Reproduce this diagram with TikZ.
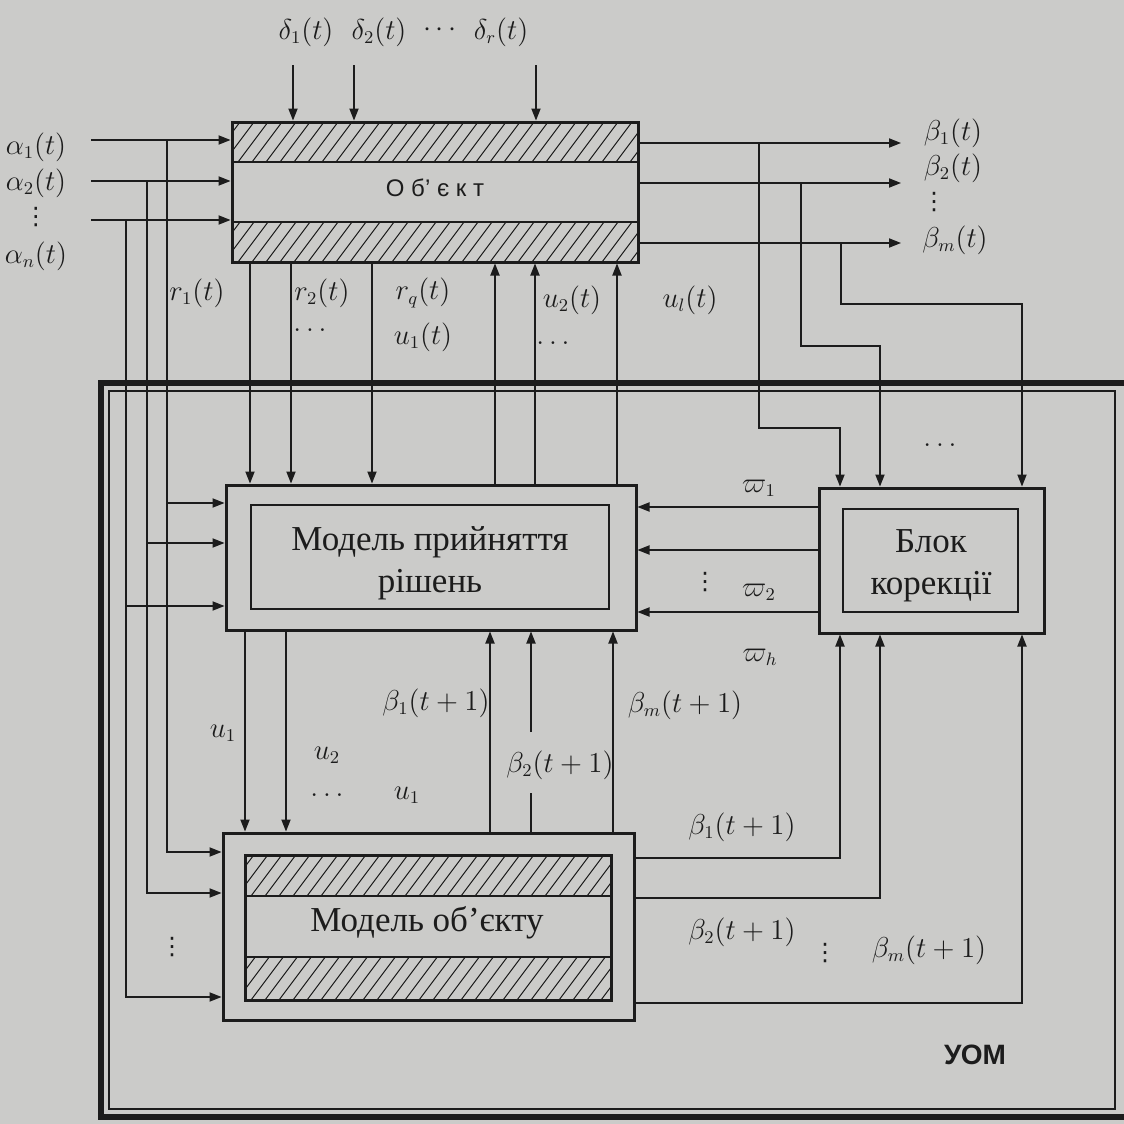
\documentclass[tikz,border=0pt]{standalone}
\usepackage{fontspec}
\setmainfont{Liberation Serif}
\newfontfamily\uomsans{Liberation Sans}
\newfontfamily\dejavu{DejaVu Sans}
\usetikzlibrary{arrows.meta}
\definecolor{paper}{RGB}{203,203,201}
\definecolor{ink}{RGB}{28,28,28}
\newcommand{\hatchband}[4]{%
  \begin{scope}
    \clip (#1,#2) rectangle (#3,#4);
    \foreach \i in {0,...,35} {\draw[hatchline] ({#1-50+14*\i},#4) -- ++(45,-60);}
  \end{scope}}
\begin{document}
\begin{tikzpicture}[x=0.5pt,y=-0.5pt,
  conn/.style={draw=ink, line width=0.65pt},
  arr/.style={conn, -{Triangle[length=6pt,width=4.6pt]}},
  hatchline/.style={draw=ink, line width=0.5pt},
  thickbox/.style={draw=ink, line width=1.5pt, inner sep=0pt},
  innerbox/.style={draw=ink, line width=1.2pt, inner sep=0pt},
  lbl/.style={font=\fontsize{13.5}{15}\selectfont, inner sep=0pt, text=ink},
  vd/.style={font=\dejavu\fontsize{12}{12}\selectfont, inner sep=0pt, text=ink},
  big/.style={font=\fontsize{17.5}{21}\selectfont, inner sep=0pt, text=ink, align=center},
]
\useasboundingbox (0,0) rectangle (1124,1124);
\fill[paper] (0,0) rectangle (1124,1124);

% ---------- UOM frame ----------
\draw[ink, line width=3pt] (1135,383) -- (101,383) -- (101,1117) -- (1135,1117);
\draw[ink, line width=0.9pt] (109,391) rectangle (1115,1109);

% ---------- Object ----------
\hatchband{232}{122}{638}{162}
\hatchband{232}{222}{638}{262}
\node[thickbox, minimum width=203pt, minimum height=70pt] (obj) at (435,192) {};
\draw[ink, line width=1.3pt] (232,162) -- (638,162) (232,222) -- (638,222);
\node[font=\uomsans\fontsize{12}{14}\selectfont, text=ink, inner sep=0pt] (objt) at (435,188) {О б’ є к т};

% ---------- Decision model ----------
\node[thickbox, minimum width=205pt, minimum height=72.5pt] (dec) at (431,557.5) {};
\node[innerbox, minimum width=179pt, minimum height=52pt] (deci) at (430,557) {};
\node[big] (dect) at (430,563) {Модель прийняття\\рішень};

% ---------- Correction block ----------
\node[thickbox, minimum width=112.5pt, minimum height=72.5pt] (blk) at (931.5,560.5) {};
\node[innerbox, minimum width=87.5pt, minimum height=51.5pt] (blki) at (930.5,560.5) {};
\node[big] (blkt) at (931,566) {Блок\\корекції};

% ---------- Object model ----------
\hatchband{245}{855}{611}{896}
\hatchband{245}{957}{611}{1000}
\node[thickbox, minimum width=205.5pt, minimum height=93.5pt] (om) at (428.5,926.5) {};
\node[thickbox, minimum width=183pt, minimum height=72.5pt] (omi) at (428,927.5) {};
\draw[ink, line width=1.3pt] (245,896) -- (611,896) (245,957) -- (611,957);
\node[big] (omt) at (427,923) {Модель об’єкту};

% ---------- delta inputs ----------
\node[lbl] (d1) at (306,32) {$\delta_1(t)$};
\node[lbl] (d2) at (379,32) {$\delta_2(t)$};
\node[lbl] (dd) at (440,30) {$\cdots$};
\node[lbl] (dr) at (501,32) {$\delta_r(t)$};
\draw[arr] (293,65) -- (293,0 |- obj.north);
\draw[arr] (354,65) -- (354,0 |- obj.north);
\draw[arr] (536,65) -- (536,0 |- obj.north);

% ---------- alpha inputs ----------
\node[lbl] (a1) at (36,147) {$\alpha_1(t)$};
\node[lbl] (a2) at (36,183) {$\alpha_2(t)$};
\node[vd] (av) at (36,217) {⋮};
\node[lbl] (an) at (36,256) {$\alpha_n(t)$};
\draw[arr] (91,140) -- (obj.west |- 0,140);
\draw[arr] (91,181) -- (obj.west |- 0,181);
\draw[arr] (91,220) -- (obj.west |- 0,220);
% taps to decision model and object model
\draw[arr] (167,140) -- (167,852) -- (om.west |- 0,852);
\draw[arr] (147,181) -- (147,893) -- (om.west |- 0,893);
\draw[arr] (126,220) -- (126,997) -- (om.west |- 0,997);
\draw[arr] (167,503) -- (dec.west |- 0,503);
\draw[arr] (147,543) -- (dec.west |- 0,543);
\draw[arr] (126,606) -- (dec.west |- 0,606);
\node[vd] (lv) at (172,947) {⋮};

% ---------- r outputs to decision model ----------
\draw[arr] (250,0 |- obj.south) -- (250,0 |- dec.north);
\draw[arr] (291,0 |- obj.south) -- (291,0 |- dec.north);
\draw[arr] (372,0 |- obj.south) -- (372,0 |- dec.north);
\node[lbl] (r1) at (197,293) {$r_1(t)$};
\node[lbl] (r2) at (322,293) {$r_2(t)$};
\node[lbl] (rd) at (310,330) {$\ldots$};
\node[lbl] (rq) at (423,293) {$r_q(t)$};
\node[lbl] (u1t) at (423,337) {$u_1(t)$};

% ---------- u controls to object ----------
\draw[arr] (495,0 |- dec.north) -- (495,0 |- obj.south);
\draw[arr] (535,0 |- dec.north) -- (535,0 |- obj.south);
\draw[arr] (617,0 |- dec.north) -- (617,0 |- obj.south);
\node[lbl] (u2t) at (572,300) {$u_2(t)$};
\node[lbl] (ud) at (553,343) {$\ldots$};
\node[lbl] (ult) at (690,300) {$u_l(t)$};

% ---------- beta outputs ----------
\draw[arr] (obj.east |- 0,143) -- (901,143);
\draw[arr] (obj.east |- 0,183) -- (901,183);
\draw[arr] (obj.east |- 0,243) -- (901,243);
\node[lbl] (b1) at (953,133) {$\beta_1(t)$};
\node[lbl] (b2) at (953,168) {$\beta_2(t)$};
\node[vd] (bv) at (934,202) {⋮};
\node[lbl] (bm) at (955,240) {$\beta_m(t)$};
\draw[arr] (759,143) -- (759,428) -- (840,428) -- (840,0 |- blk.north);
\draw[arr] (801,183) -- (801,346) -- (880,346) -- (880,0 |- blk.north);
\draw[arr] (841,243) -- (841,304) -- (1022,304) -- (1022,0 |- blk.north);
\node[lbl] (bd) at (940,445) {$\ldots$};

% ---------- corrections ----------
\draw[arr] (blk.west |- 0,507) -- (dec.east |- 0,507);
\draw[arr] (blk.west |- 0,550) -- (dec.east |- 0,550);
\draw[arr] (blk.west |- 0,612) -- (dec.east |- 0,612);
\node[lbl] (w1) at (759,488) {$\varpi_1$};
\node[vd] (wv) at (705,582) {⋮};
\node[lbl] (w2) at (759,592) {$\varpi_2$};
\node[lbl] (wh) at (760,657) {$\varpi_h$};

% ---------- decision -> object model ----------
\draw[arr] (245,0 |- dec.south) -- (245,0 |- om.north);
\draw[arr] (286,0 |- dec.south) -- (286,0 |- om.north);
\node[lbl] (mu1) at (223,733) {$u_1$};
\node[lbl] (mu2) at (327,755) {$u_2$};
\node[lbl] (mud) at (327,795) {$\ldots$};
\node[lbl] (mul) at (407,795) {$u_1$};

% ---------- object model -> decision ----------
\draw[arr] (490,0 |- om.north) -- (490,0 |- dec.south);
\draw[conn] (531,0 |- om.north) -- (531,793);
\draw[arr] (531,732) -- (531,0 |- dec.south);
\draw[arr] (613,0 |- om.north) -- (613,0 |- dec.south);
\node[lbl] (p1) at (436,703) {$\beta_1(t+1)$};
\node[lbl] (p2) at (560,765) {$\beta_2(t+1)$};
\node[lbl] (pm) at (685,705) {$\beta_m(t+1)$};

% ---------- object model -> correction block ----------
\draw[arr] (om.east |- 0,858) -- (840,858) -- (840,0 |- blk.south);
\draw[arr] (om.east |- 0,898) -- (880,898) -- (880,0 |- blk.south);
\draw[arr] (om.east |- 0,1003) -- (1022,1003) -- (1022,0 |- blk.south);
\node[lbl] (q1) at (742,827) {$\beta_1(t+1)$};
\node[lbl] (q2) at (742,932) {$\beta_2(t+1)$};
\node[vd] (qv) at (825,953) {⋮};
\node[lbl] (qm) at (929,950) {$\beta_m(t+1)$};

% ---------- UOM ----------
\node[font=\uomsans\bfseries\fontsize{14}{16}\selectfont, text=ink, inner sep=0pt] (uom) at (975,1055) {УОМ};
\end{tikzpicture}
\end{document}
